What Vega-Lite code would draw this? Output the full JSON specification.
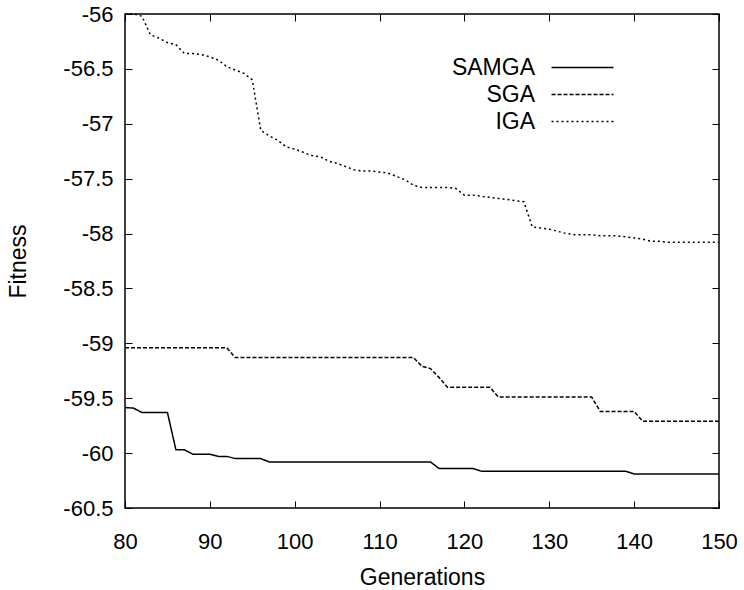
{
  "$schema": "https://vega.github.io/schema/vega-lite/v6.json",
  "width": 594,
  "height": 494,
  "autosize": {"type": "none"},
  "padding": {"left": 125, "top": 14, "right": 25, "bottom": 82},
  "background": "white",
  "config": {
    "font": "Liberation Sans",
    "view": {"stroke": "black", "strokeWidth": 1.5},
    "axis": {
      "labelFont": "Liberation Sans", "labelFontSize": 22, "labelColor": "black", "labelFlush": false, "labelOverlap": false,
      "titleFont": "Liberation Sans", "titleFontSize": 23, "titleFontWeight": "normal", "titleColor": "black",
      "domain": false, "grid": false, "tickColor": "black", "tickSize": -7, "tickWidth": 1
    },
    "legend": {"labelFont": "Liberation Sans", "labelFontSize": 23, "labelColor": "black"}
  },
  "data": {"values": [
    {"gen":80,"fit":-59.585,"alg":"SAMGA"},{"gen":81,"fit":-59.59,"alg":"SAMGA"},{"gen":82,"fit":-59.63,"alg":"SAMGA"},{"gen":83,"fit":-59.63,"alg":"SAMGA"},{"gen":84,"fit":-59.63,"alg":"SAMGA"},{"gen":85,"fit":-59.63,"alg":"SAMGA"},{"gen":86,"fit":-59.97,"alg":"SAMGA"},{"gen":87,"fit":-59.97,"alg":"SAMGA"},{"gen":88,"fit":-60.01,"alg":"SAMGA"},{"gen":89,"fit":-60.01,"alg":"SAMGA"},
    {"gen":90,"fit":-60.01,"alg":"SAMGA"},{"gen":91,"fit":-60.03,"alg":"SAMGA"},{"gen":92,"fit":-60.03,"alg":"SAMGA"},{"gen":93,"fit":-60.05,"alg":"SAMGA"},{"gen":94,"fit":-60.05,"alg":"SAMGA"},{"gen":95,"fit":-60.05,"alg":"SAMGA"},{"gen":96,"fit":-60.05,"alg":"SAMGA"},{"gen":97,"fit":-60.08,"alg":"SAMGA"},{"gen":98,"fit":-60.08,"alg":"SAMGA"},{"gen":99,"fit":-60.08,"alg":"SAMGA"},
    {"gen":100,"fit":-60.08,"alg":"SAMGA"},{"gen":101,"fit":-60.08,"alg":"SAMGA"},{"gen":102,"fit":-60.08,"alg":"SAMGA"},{"gen":103,"fit":-60.08,"alg":"SAMGA"},{"gen":104,"fit":-60.08,"alg":"SAMGA"},{"gen":105,"fit":-60.08,"alg":"SAMGA"},{"gen":106,"fit":-60.08,"alg":"SAMGA"},{"gen":107,"fit":-60.08,"alg":"SAMGA"},{"gen":108,"fit":-60.08,"alg":"SAMGA"},{"gen":109,"fit":-60.08,"alg":"SAMGA"},
    {"gen":110,"fit":-60.08,"alg":"SAMGA"},{"gen":111,"fit":-60.08,"alg":"SAMGA"},{"gen":112,"fit":-60.08,"alg":"SAMGA"},{"gen":113,"fit":-60.08,"alg":"SAMGA"},{"gen":114,"fit":-60.08,"alg":"SAMGA"},{"gen":115,"fit":-60.08,"alg":"SAMGA"},{"gen":116,"fit":-60.08,"alg":"SAMGA"},{"gen":117,"fit":-60.14,"alg":"SAMGA"},{"gen":118,"fit":-60.14,"alg":"SAMGA"},{"gen":119,"fit":-60.14,"alg":"SAMGA"},
    {"gen":120,"fit":-60.14,"alg":"SAMGA"},{"gen":121,"fit":-60.14,"alg":"SAMGA"},{"gen":122,"fit":-60.165,"alg":"SAMGA"},{"gen":123,"fit":-60.165,"alg":"SAMGA"},{"gen":124,"fit":-60.165,"alg":"SAMGA"},{"gen":125,"fit":-60.165,"alg":"SAMGA"},{"gen":126,"fit":-60.165,"alg":"SAMGA"},{"gen":127,"fit":-60.165,"alg":"SAMGA"},{"gen":128,"fit":-60.165,"alg":"SAMGA"},{"gen":129,"fit":-60.165,"alg":"SAMGA"},
    {"gen":130,"fit":-60.165,"alg":"SAMGA"},{"gen":131,"fit":-60.165,"alg":"SAMGA"},{"gen":132,"fit":-60.165,"alg":"SAMGA"},{"gen":133,"fit":-60.165,"alg":"SAMGA"},{"gen":134,"fit":-60.165,"alg":"SAMGA"},{"gen":135,"fit":-60.165,"alg":"SAMGA"},{"gen":136,"fit":-60.165,"alg":"SAMGA"},{"gen":137,"fit":-60.165,"alg":"SAMGA"},{"gen":138,"fit":-60.165,"alg":"SAMGA"},{"gen":139,"fit":-60.165,"alg":"SAMGA"},
    {"gen":140,"fit":-60.19,"alg":"SAMGA"},{"gen":141,"fit":-60.19,"alg":"SAMGA"},{"gen":142,"fit":-60.19,"alg":"SAMGA"},{"gen":143,"fit":-60.19,"alg":"SAMGA"},{"gen":144,"fit":-60.19,"alg":"SAMGA"},{"gen":145,"fit":-60.19,"alg":"SAMGA"},{"gen":146,"fit":-60.19,"alg":"SAMGA"},{"gen":147,"fit":-60.19,"alg":"SAMGA"},{"gen":148,"fit":-60.19,"alg":"SAMGA"},{"gen":149,"fit":-60.19,"alg":"SAMGA"},{"gen":150,"fit":-60.19,"alg":"SAMGA"},

    {"gen":80,"fit":-59.04,"alg":"SGA"},{"gen":81,"fit":-59.04,"alg":"SGA"},{"gen":82,"fit":-59.04,"alg":"SGA"},{"gen":83,"fit":-59.04,"alg":"SGA"},{"gen":84,"fit":-59.04,"alg":"SGA"},{"gen":85,"fit":-59.04,"alg":"SGA"},{"gen":86,"fit":-59.04,"alg":"SGA"},{"gen":87,"fit":-59.04,"alg":"SGA"},{"gen":88,"fit":-59.04,"alg":"SGA"},{"gen":89,"fit":-59.04,"alg":"SGA"},
    {"gen":90,"fit":-59.04,"alg":"SGA"},{"gen":91,"fit":-59.04,"alg":"SGA"},{"gen":92,"fit":-59.04,"alg":"SGA"},{"gen":93,"fit":-59.13,"alg":"SGA"},{"gen":94,"fit":-59.13,"alg":"SGA"},{"gen":95,"fit":-59.13,"alg":"SGA"},{"gen":96,"fit":-59.13,"alg":"SGA"},{"gen":97,"fit":-59.13,"alg":"SGA"},{"gen":98,"fit":-59.13,"alg":"SGA"},{"gen":99,"fit":-59.13,"alg":"SGA"},
    {"gen":100,"fit":-59.13,"alg":"SGA"},{"gen":101,"fit":-59.13,"alg":"SGA"},{"gen":102,"fit":-59.13,"alg":"SGA"},{"gen":103,"fit":-59.13,"alg":"SGA"},{"gen":104,"fit":-59.13,"alg":"SGA"},{"gen":105,"fit":-59.13,"alg":"SGA"},{"gen":106,"fit":-59.13,"alg":"SGA"},{"gen":107,"fit":-59.13,"alg":"SGA"},{"gen":108,"fit":-59.13,"alg":"SGA"},{"gen":109,"fit":-59.13,"alg":"SGA"},
    {"gen":110,"fit":-59.13,"alg":"SGA"},{"gen":111,"fit":-59.13,"alg":"SGA"},{"gen":112,"fit":-59.13,"alg":"SGA"},{"gen":113,"fit":-59.13,"alg":"SGA"},{"gen":114,"fit":-59.13,"alg":"SGA"},{"gen":115,"fit":-59.21,"alg":"SGA"},{"gen":116,"fit":-59.23,"alg":"SGA"},{"gen":117,"fit":-59.31,"alg":"SGA"},{"gen":118,"fit":-59.4,"alg":"SGA"},{"gen":119,"fit":-59.4,"alg":"SGA"},
    {"gen":120,"fit":-59.4,"alg":"SGA"},{"gen":121,"fit":-59.4,"alg":"SGA"},{"gen":122,"fit":-59.4,"alg":"SGA"},{"gen":123,"fit":-59.4,"alg":"SGA"},{"gen":124,"fit":-59.49,"alg":"SGA"},{"gen":125,"fit":-59.49,"alg":"SGA"},{"gen":126,"fit":-59.49,"alg":"SGA"},{"gen":127,"fit":-59.49,"alg":"SGA"},{"gen":128,"fit":-59.49,"alg":"SGA"},{"gen":129,"fit":-59.49,"alg":"SGA"},
    {"gen":130,"fit":-59.49,"alg":"SGA"},{"gen":131,"fit":-59.49,"alg":"SGA"},{"gen":132,"fit":-59.49,"alg":"SGA"},{"gen":133,"fit":-59.49,"alg":"SGA"},{"gen":134,"fit":-59.49,"alg":"SGA"},{"gen":135,"fit":-59.49,"alg":"SGA"},{"gen":136,"fit":-59.62,"alg":"SGA"},{"gen":137,"fit":-59.62,"alg":"SGA"},{"gen":138,"fit":-59.62,"alg":"SGA"},{"gen":139,"fit":-59.62,"alg":"SGA"},
    {"gen":140,"fit":-59.62,"alg":"SGA"},{"gen":141,"fit":-59.71,"alg":"SGA"},{"gen":142,"fit":-59.71,"alg":"SGA"},{"gen":143,"fit":-59.71,"alg":"SGA"},{"gen":144,"fit":-59.71,"alg":"SGA"},{"gen":145,"fit":-59.71,"alg":"SGA"},{"gen":146,"fit":-59.71,"alg":"SGA"},{"gen":147,"fit":-59.71,"alg":"SGA"},{"gen":148,"fit":-59.71,"alg":"SGA"},{"gen":149,"fit":-59.71,"alg":"SGA"},{"gen":150,"fit":-59.71,"alg":"SGA"},

    {"gen":80,"fit":-56.0,"alg":"IGA"},{"gen":81,"fit":-56.0,"alg":"IGA"},{"gen":82,"fit":-56.02,"alg":"IGA"},{"gen":83,"fit":-56.19,"alg":"IGA"},{"gen":84,"fit":-56.22,"alg":"IGA"},{"gen":85,"fit":-56.26,"alg":"IGA"},{"gen":86,"fit":-56.28,"alg":"IGA"},{"gen":87,"fit":-56.36,"alg":"IGA"},{"gen":88,"fit":-56.36,"alg":"IGA"},{"gen":89,"fit":-56.37,"alg":"IGA"},
    {"gen":90,"fit":-56.39,"alg":"IGA"},{"gen":91,"fit":-56.42,"alg":"IGA"},{"gen":92,"fit":-56.48,"alg":"IGA"},{"gen":93,"fit":-56.51,"alg":"IGA"},{"gen":94,"fit":-56.54,"alg":"IGA"},{"gen":95,"fit":-56.6,"alg":"IGA"},{"gen":96,"fit":-57.06,"alg":"IGA"},{"gen":97,"fit":-57.11,"alg":"IGA"},{"gen":98,"fit":-57.15,"alg":"IGA"},{"gen":99,"fit":-57.21,"alg":"IGA"},
    {"gen":100,"fit":-57.23,"alg":"IGA"},{"gen":101,"fit":-57.26,"alg":"IGA"},{"gen":102,"fit":-57.29,"alg":"IGA"},{"gen":103,"fit":-57.3,"alg":"IGA"},{"gen":104,"fit":-57.34,"alg":"IGA"},{"gen":105,"fit":-57.36,"alg":"IGA"},{"gen":106,"fit":-57.39,"alg":"IGA"},{"gen":107,"fit":-57.42,"alg":"IGA"},{"gen":108,"fit":-57.43,"alg":"IGA"},{"gen":109,"fit":-57.43,"alg":"IGA"},
    {"gen":110,"fit":-57.44,"alg":"IGA"},{"gen":111,"fit":-57.45,"alg":"IGA"},{"gen":112,"fit":-57.48,"alg":"IGA"},{"gen":113,"fit":-57.51,"alg":"IGA"},{"gen":114,"fit":-57.56,"alg":"IGA"},{"gen":115,"fit":-57.58,"alg":"IGA"},{"gen":116,"fit":-57.58,"alg":"IGA"},{"gen":117,"fit":-57.58,"alg":"IGA"},{"gen":118,"fit":-57.58,"alg":"IGA"},{"gen":119,"fit":-57.59,"alg":"IGA"},
    {"gen":120,"fit":-57.65,"alg":"IGA"},{"gen":121,"fit":-57.65,"alg":"IGA"},{"gen":122,"fit":-57.66,"alg":"IGA"},{"gen":123,"fit":-57.67,"alg":"IGA"},{"gen":124,"fit":-57.68,"alg":"IGA"},{"gen":125,"fit":-57.69,"alg":"IGA"},{"gen":126,"fit":-57.7,"alg":"IGA"},{"gen":127,"fit":-57.71,"alg":"IGA"},{"gen":128,"fit":-57.94,"alg":"IGA"},{"gen":129,"fit":-57.95,"alg":"IGA"},
    {"gen":130,"fit":-57.96,"alg":"IGA"},{"gen":131,"fit":-57.98,"alg":"IGA"},{"gen":132,"fit":-58.0,"alg":"IGA"},{"gen":133,"fit":-58.01,"alg":"IGA"},{"gen":134,"fit":-58.01,"alg":"IGA"},{"gen":135,"fit":-58.01,"alg":"IGA"},{"gen":136,"fit":-58.02,"alg":"IGA"},{"gen":137,"fit":-58.02,"alg":"IGA"},{"gen":138,"fit":-58.02,"alg":"IGA"},{"gen":139,"fit":-58.03,"alg":"IGA"},
    {"gen":140,"fit":-58.04,"alg":"IGA"},{"gen":141,"fit":-58.05,"alg":"IGA"},{"gen":142,"fit":-58.07,"alg":"IGA"},{"gen":143,"fit":-58.07,"alg":"IGA"},{"gen":144,"fit":-58.08,"alg":"IGA"},{"gen":145,"fit":-58.08,"alg":"IGA"},{"gen":146,"fit":-58.08,"alg":"IGA"},{"gen":147,"fit":-58.08,"alg":"IGA"},{"gen":148,"fit":-58.08,"alg":"IGA"},{"gen":149,"fit":-58.08,"alg":"IGA"},{"gen":150,"fit":-58.08,"alg":"IGA"}
  ]},
  "layer": [
    {
      "mark": {"type": "line", "color": "black", "strokeWidth": 1.5},
      "encoding": {
        "x": {"field": "gen", "type": "quantitative",
              "scale": {"domain": [80, 150], "nice": false, "zero": false},
              "axis": {"orient": "bottom", "values": [80, 90, 100, 110, 120, 130, 140, 150], "title": "Generations", "labelPadding": 30, "titlePadding": 14, "labelExpr": "datum.value + ''"}},
        "y": {"field": "fit", "type": "quantitative",
              "scale": {"domain": [-60.5, -56], "nice": false, "zero": false},
              "axis": {"orient": "left", "values": [-60.5, -60, -59.5, -59, -58.5, -58, -57.5, -57, -56.5, -56], "title": "Fitness", "labelPadding": 19, "titlePadding": 32, "labelExpr": "datum.value + ''"}},
        "strokeDash": {"field": "alg", "type": "nominal",
              "scale": {"domain": ["SAMGA", "SGA", "IGA"], "range": [[1, 0], [4, 2], [2, 3]]},
              "legend": {"title": null, "orient": "none", "legendX": 446, "legendY": 42, "padding": 0,
                         "symbolType": "M-3,0H3", "symbolSize": 427, "symbolStrokeWidth": 1.5, "symbolStrokeColor": "black", "symbolFillColor": "transparent",
                         "labelAlign": "right", "labelOffset": -59, "rowPadding": 3}}
      }
    },
    {
      "mark": {"type": "line", "opacity": 0},
      "encoding": {
        "x": {"field": "gen", "type": "quantitative",
              "axis": {"orient": "top", "values": [80, 90, 100, 110, 120, 130, 140, 150], "labels": false, "title": null}},
        "y": {"field": "fit", "type": "quantitative",
              "axis": {"orient": "right", "values": [-60.5, -60, -59.5, -59, -58.5, -58, -57.5, -57, -56.5, -56], "labels": false, "title": null}}
      }
    }
  ],
  "resolve": {"axis": {"x": "independent", "y": "independent"}}
}
